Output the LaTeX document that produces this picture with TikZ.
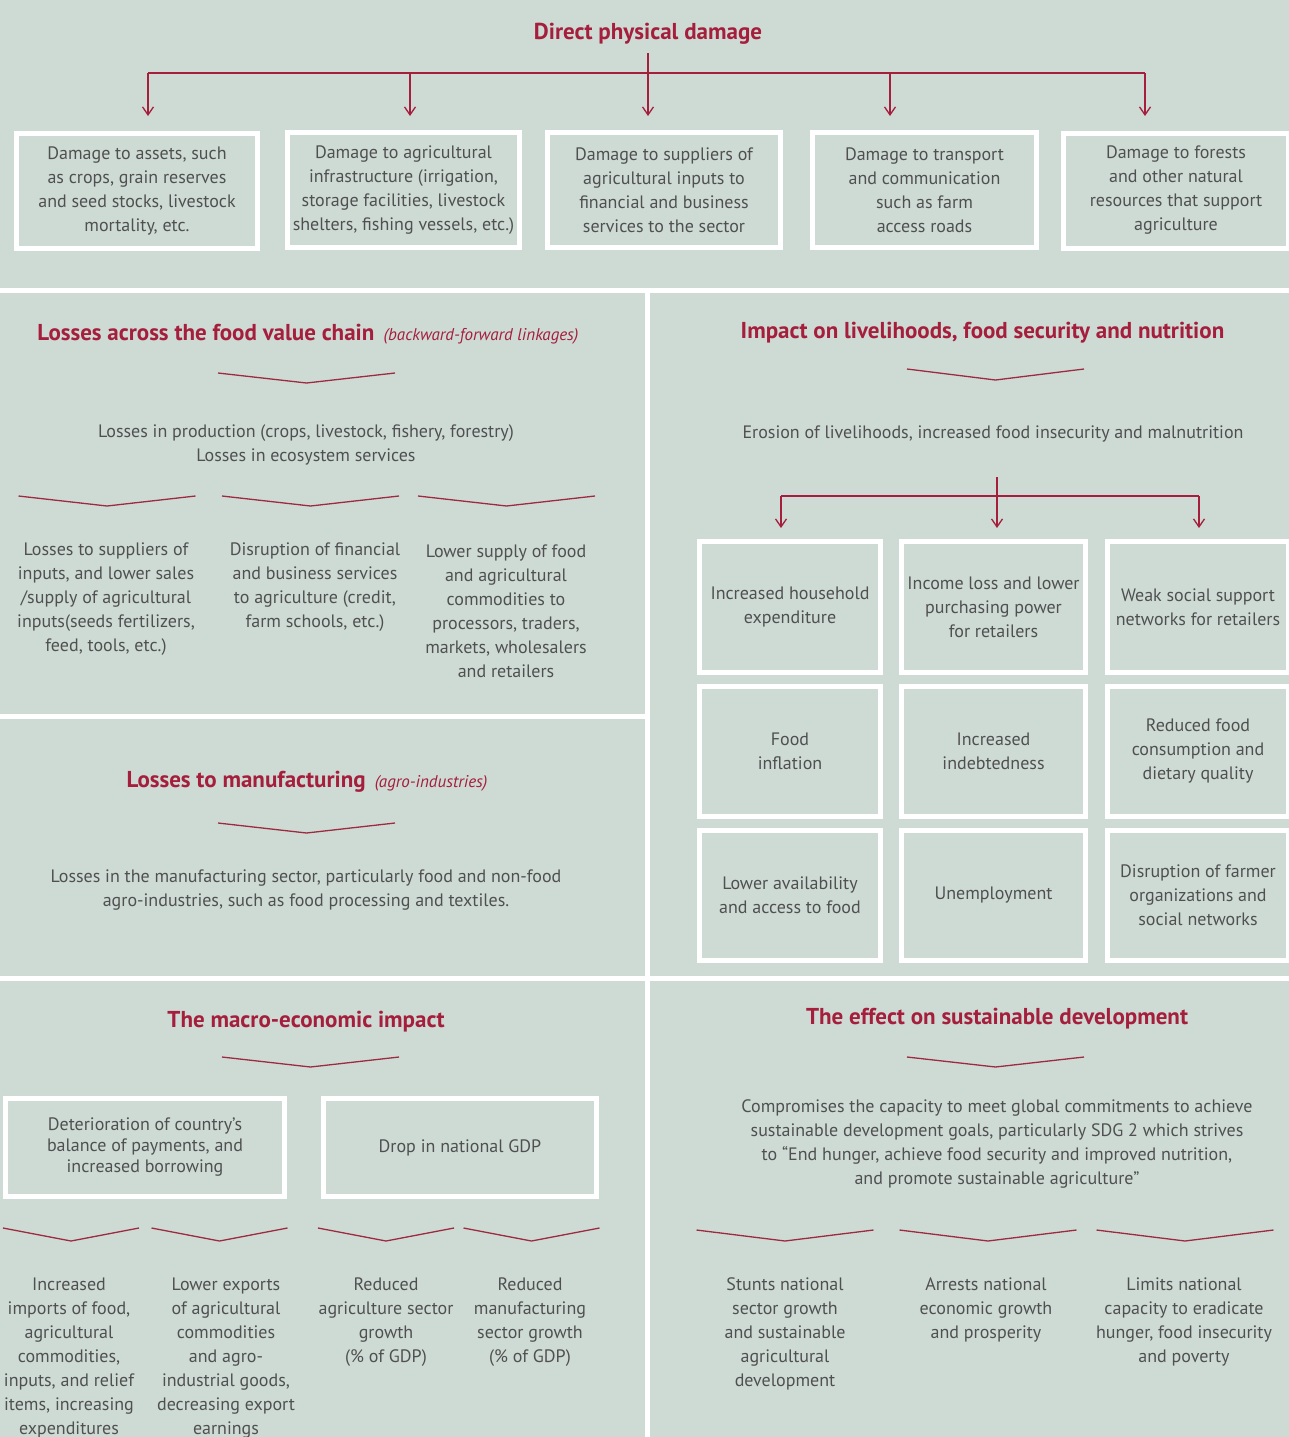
\documentclass[tikz,border=0pt]{standalone}
\usepackage{fontspec}
\setmainfont{PT Sans}
\usetikzlibrary{arrows.meta}
\definecolor{bg}{HTML}{CEDBD5}
\definecolor{ttl}{HTML}{A51E3C}
\definecolor{txt}{HTML}{505050}
\definecolor{chv}{HTML}{9E2A40}
\newcommand{\mychev}[4]{\draw[chevline] (#1-#3,#2) -- (#1,#2+#4) -- (#1+#3,#2);}
\begin{document}
\begin{tikzpicture}[x=1pt,y=-1pt,
 body/.style={font=\fontsize{18}{24}\selectfont, text=txt, align=center, inner sep=0pt},
 free/.style={body, yshift=-2pt},
 ttlstyle/.style={font=\fontsize{23}{28}\selectfont\bfseries, text=ttl, inner sep=0pt, yshift=-3pt},
 box/.style={body, draw=white, line width=5pt},
 conn/.style={draw=ttl, line width=1.3pt},
 arr/.style={conn, -{Straight Barb[length=8pt,width=11pt,line width=1.3pt]}},
 chevline/.style={draw=chv, line width=1.3pt}]

\clip (0,0) rectangle (1289,1437);
\fill[bg] (0,0) rectangle (1289,1437);
% separators
\fill[white] (0,287.5) rectangle (1289,292.5);
\fill[white] (645,292.5) rectangle (650,1437);
\fill[white] (0,713.5) rectangle (645,719);
\fill[white] (0,976) rectangle (1289,981);

% ---------- Direct physical damage ----------
\node[ttlstyle] (t0) at (648,31) {Direct physical damage};
\coordinate (top0) at (648,53);
\coordinate (hub0) at (648,73);
\coordinate (a1) at (148,116);
\coordinate (a2) at (410,116);
\coordinate (a3) at (648,116);
\coordinate (a4) at (890,116);
\coordinate (a5) at (1145,116);
\draw[conn] (a1 |- hub0) -- (a5 |- hub0);
\draw[arr] (top0) -- (a3);
\draw[arr] (a1 |- hub0) -- (a1);
\draw[arr] (a2 |- hub0) -- (a2);
\draw[arr] (a4 |- hub0) -- (a4);
\draw[arr] (a5 |- hub0) -- (a5);

\node[box, minimum width=241pt, minimum height=115pt] (b1) at (137,191)
 {Damage to assets, such\\as crops, grain reserves\\and seed stocks, livestock\\mortality, etc.};
\node[box, minimum width=232pt, minimum height=115pt] (b2) at (403.5,190)
 {Damage to agricultural\\infrastructure (irrigation,\\storage facilities, livestock\\shelters, fishing vessels, etc.)};
\node[box, minimum width=233pt, minimum height=115pt] (b3) at (664,190)
 {Damage to suppliers of\\agricultural inputs to\\financial and business\\services to the sector};
\node[box, minimum width=224pt, minimum height=115pt] (b4) at (924.5,190)
 {Damage to transport\\and communication\\such as farm\\access roads};
\node[box, minimum width=225pt, minimum height=115pt] (b5) at (1176,190.5)
 {Damage to forests\\and other natural\\resources that support\\agriculture};

% ---------- Losses across the food value chain ----------
\node[ttlstyle] (t1) at (308,331) {Losses across the food value chain\hspace{0.4em}{\mdseries\itshape\fontsize{17}{20}\selectfont (backward-forward linkages)}};
\mychev{306.5}{373}{88.5}{10}
\node[free] (p1) at (306,443) {Losses in production (crops, livestock, fishery, forestry)\\Losses in ecosystem services};
\mychev{107}{496}{88.5}{10}
\mychev{310.5}{496}{88.5}{10}
\mychev{506.5}{496}{88.5}{10}
\node[free] (p1a) at (106,597) {Losses to suppliers of\\inputs, and lower sales\\/supply of agricultural\\inputs(seeds fertilizers,\\feed, tools, etc.)};
\node[free] (p1b) at (315,585) {Disruption of financial\\and business services\\to agriculture (credit,\\farm schools, etc.)};
\node[free] (p1c) at (506,609.5) {Lower supply of food\\and agricultural\\commodities to\\processors, traders,\\markets, wholesalers\\and retailers};

% ---------- Losses to manufacturing ----------
\node[ttlstyle] (t2) at (307,779) {Losses to manufacturing\hspace{0.4em}{\mdseries\itshape\fontsize{17}{20}\selectfont (agro-industries)}};
\mychev{306.5}{823}{88.5}{10}
\node[free] (p2) at (306,888) {Losses in the manufacturing sector, particularly food and non-food\\agro-industries, such as food processing and textiles.};

% ---------- Macro-economic impact ----------
\node[ttlstyle] (t3) at (306,1019) {The macro-economic impact};
\mychev{310.5}{1057}{88.5}{10}
\node[box, minimum width=279pt, minimum height=98pt, font=\fontsize{18}{21}\selectfont] (m1) at (145,1147.5)
 {\raisebox{-3pt}{Deterioration of country's}\\\raisebox{-3pt}{balance of payments, and}\\\raisebox{-3pt}{increased borrowing}};
\node[box, minimum width=273pt, minimum height=98pt] (m2) at (460,1147.5) {Drop in national GDP};
\mychev{71}{1228}{68}{13}
\mychev{219.5}{1228}{68}{13}
\mychev{386}{1228}{68}{13}
\mychev{531.5}{1228}{68}{13}
\node[free] (m1a) at (69,1356) {Increased\\imports of food,\\agricultural\\commodities,\\inputs, and relief\\items, increasing\\expenditures};
\node[free] (m1b) at (226,1356) {Lower exports\\of agricultural\\commodities\\and agro-\\industrial goods,\\decreasing export\\earnings};
\node[free] (m2a) at (386,1320) {Reduced\\agriculture sector\\growth\\(\% of GDP)};
\node[free] (m2b) at (530,1320) {Reduced\\manufacturing\\sector growth\\(\% of GDP)};

% ---------- Livelihoods ----------
\node[ttlstyle] (t4) at (982.5,330) {Impact on livelihoods, food security and nutrition};
\mychev{995.5}{369}{88.5}{11}
\node[free] (p4) at (993,432) {Erosion of livelihoods, increased food insecurity and malnutrition};
\coordinate (top4) at (997,477);
\coordinate (hub4) at (997,496);
\coordinate (c1) at (781,528);
\coordinate (c2) at (997,528);
\coordinate (c3) at (1199,528);
\draw[conn] (c1 |- hub4) -- (c3 |- hub4);
\draw[arr] (top4) -- (c2);
\draw[arr] (c1 |- hub4) -- (c1);
\draw[arr] (c3 |- hub4) -- (c3);

\node[box, minimum width=181pt, minimum height=131pt] (g11) at (790,607) {Increased household\\expenditure};
\node[box, minimum width=184pt, minimum height=131pt] (g12) at (993.5,607) {Income loss and lower\\purchasing power\\for retailers};
\node[box, minimum width=181pt, minimum height=131pt] (g13) at (1198,607) {Weak social support\\networks for retailers};
\node[box, minimum width=181pt, minimum height=130pt] (g21) at (790,751) {Food\\inflation};
\node[box, minimum width=184pt, minimum height=130pt] (g22) at (993.5,751) {Increased\\indebtedness};
\node[box, minimum width=181pt, minimum height=130pt] (g23) at (1198,751) {Reduced food\\consumption and\\dietary quality};
\node[box, minimum width=181pt, minimum height=130pt] (g31) at (790,895) {Lower availability\\and access to food};
\node[box, minimum width=184pt, minimum height=130pt] (g32) at (993.5,895) {Unemployment};
\node[box, minimum width=181pt, minimum height=130pt] (g33) at (1198,895) {Disruption of farmer\\organizations and\\social networks};

% ---------- Sustainable development ----------
\node[ttlstyle] (t5) at (997,1016) {The effect on sustainable development};
\mychev{995.5}{1057}{88.5}{10}
\node[free] (p5) at (997,1142) {Compromises the capacity to meet global commitments to achieve\\sustainable development goals, particularly SDG 2 which strives\\to “End hunger, achieve food security and improved nutrition,\\and promote sustainable agriculture”};
\mychev{785}{1230}{88.5}{11}
\mychev{988}{1230}{88.5}{11}
\mychev{1185}{1230}{88.5}{11}
\node[free] (s1) at (785,1332) {Stunts national\\sector growth\\and sustainable\\agricultural\\development};
\node[free] (s2) at (986,1308) {Arrests national\\economic growth\\and prosperity};
\node[free] (s3) at (1184,1320) {Limits national\\capacity to eradicate\\hunger, food insecurity\\and poverty};
\end{tikzpicture}
\end{document}
